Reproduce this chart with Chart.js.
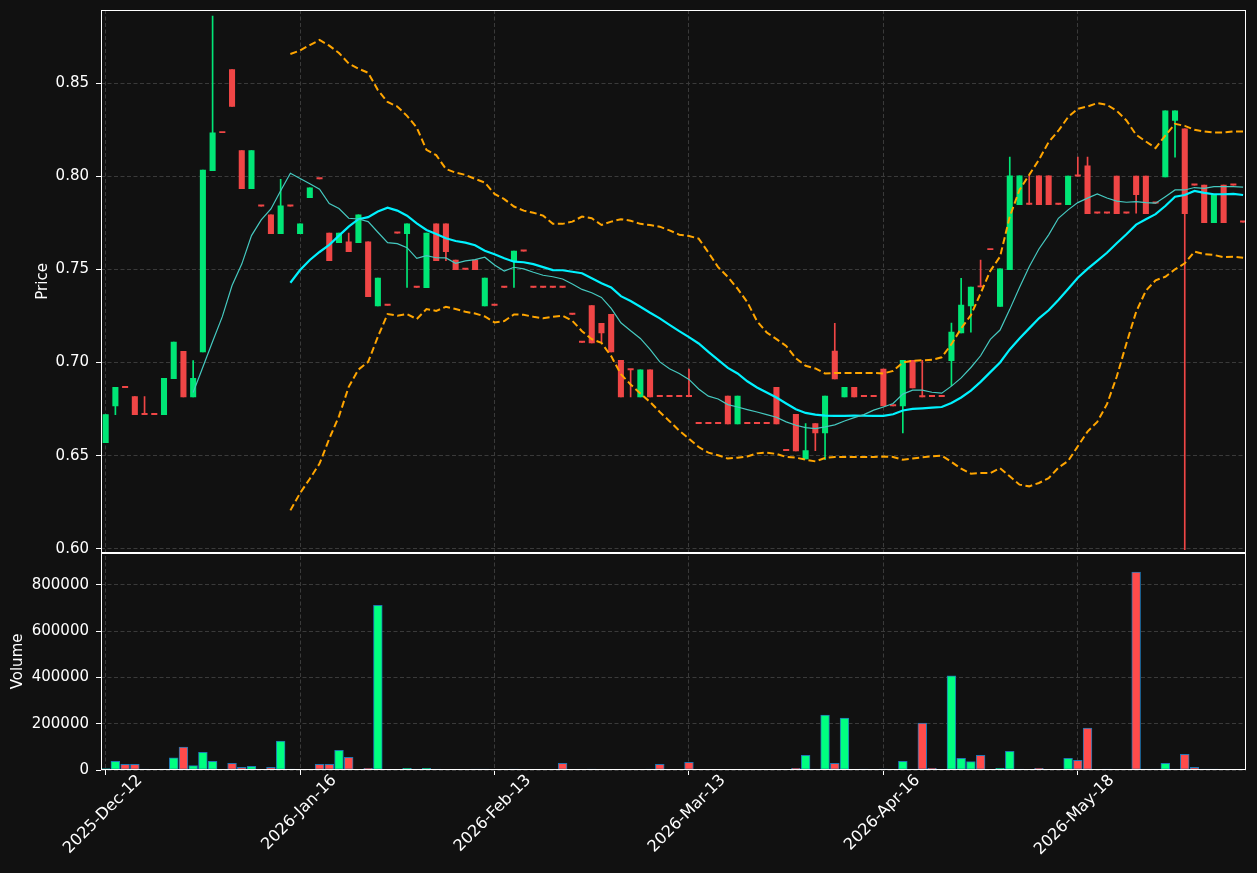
<!DOCTYPE html>
<html><head><meta charset="utf-8">
<script src="https://cdn.jsdelivr.net/npm/chart.js@4.4.1/dist/chart.umd.min.js"></script>
<style>html,body{margin:0;padding:0;background:#111111;}canvas{display:block;}</style>
</head><body>
<canvas id="c" width="1257" height="873"></canvas>
<script>
const dates = ['2025-Dec-12','2025-Dec-15','2025-Dec-16','2025-Dec-17','2025-Dec-18','2025-Dec-19','2025-Dec-22','2025-Dec-23','2025-Dec-29','2025-Dec-30',
'2025-Dec-31','2026-Jan-05','2026-Jan-06','2026-Jan-07','2026-Jan-08','2026-Jan-09','2026-Jan-12','2026-Jan-13','2026-Jan-14','2026-Jan-15',
'2026-Jan-16','2026-Jan-19','2026-Jan-20','2026-Jan-21','2026-Jan-22','2026-Jan-23','2026-Jan-26','2026-Jan-27','2026-Jan-28','2026-Jan-29',
'2026-Jan-30','2026-Feb-02','2026-Feb-03','2026-Feb-04','2026-Feb-05','2026-Feb-06','2026-Feb-09','2026-Feb-10','2026-Feb-11','2026-Feb-12',
'2026-Feb-13','2026-Feb-16','2026-Feb-17','2026-Feb-18','2026-Feb-19','2026-Feb-20','2026-Feb-23','2026-Feb-24','2026-Feb-25','2026-Feb-26',
'2026-Feb-27','2026-Mar-02','2026-Mar-03','2026-Mar-04','2026-Mar-05','2026-Mar-06','2026-Mar-09','2026-Mar-10','2026-Mar-11','2026-Mar-12',
'2026-Mar-13','2026-Mar-16','2026-Mar-17','2026-Mar-18','2026-Mar-19','2026-Mar-20','2026-Mar-23','2026-Mar-24','2026-Mar-25','2026-Mar-26',
'2026-Mar-27','2026-Mar-30','2026-Mar-31','2026-Apr-01','2026-Apr-02','2026-Apr-08','2026-Apr-09','2026-Apr-10','2026-Apr-14','2026-Apr-15',
'2026-Apr-16','2026-Apr-17','2026-Apr-20','2026-Apr-21','2026-Apr-22','2026-Apr-23','2026-Apr-24','2026-Apr-27','2026-Apr-28','2026-Apr-29',
'2026-Apr-30','2026-May-05','2026-May-06','2026-May-07','2026-May-08','2026-May-11','2026-May-12','2026-May-13','2026-May-14','2026-May-15',
'2026-May-18','2026-May-19','2026-May-20','2026-May-21','2026-May-22','2026-May-26','2026-May-27','2026-May-28','2026-May-29','2026-Jun-01',
'2026-Jun-02','2026-Jun-03','2026-Jun-04','2026-Jun-05','2026-Jun-08','2026-Jun-09','2026-Jun-10','2026-Jun-11'];

const opens = [.657,.6767,.6865,.6817,.672,.672,.672,.6913,.706,.6815,
.7057,.803,.8233,.8572,.8137,.7933,.7839,.7792,.7692,.7839,
.7691,.7885,.7985,.7695,.7643,.7647,.7643,.7647,.7304,.7306,
.7694,.7691,.7403,.7401,.7744,.7744,.755,.75,.755,.7304,
.7306,.7403,.7546,.7597,.7403,.7403,.7403,.7403,.7258,.7108,
.7306,.721,.7258,.7011,.696,.6815,.696,.6817,.6817,.6817,
.6817,.6672,.6672,.6672,.6819,.667,.6672,.6672,.6672,.6867,
.6527,.6722,.6482,.6672,.6622,.7061,.6815,.6867,.6817,.6817,
.6964,.6767,.6767,.7012,.6815,.6817,.6817,.7009,.7159,.7304,
.7405,.7605,.7301,.7498,.7847,.7849,.8002,.8002,.7849,.7847,
.80,.8055,.7801,.7801,.80,.7801,.80,.80,.7855,.7996,
.8299,.8254,.7952,.7952,.7751,.7952,.7952,.7753];

const highs = [.672,.6867,.6865,.6817,.6817,.672,.6915,.7109,.706,.701,
.8033,.886,.8233,.8572,.8137,.8137,.7839,.7792,.7983,.7839,
.7744,.7937,.7985,.7695,.7695,.7695,.7792,.7647,.7453,.7306,
.7694,.7744,.7403,.7695,.7744,.7744,.755,.75,.755,.7453,
.7306,.7403,.7598,.7597,.7403,.7403,.7403,.7403,.7258,.7108,
.7306,.721,.7258,.7011,.696,.696,.696,.6817,.6817,.6817,
.6964,.6672,.6672,.6672,.6819,.6819,.6672,.6672,.6672,.6867,
.6527,.6722,.6672,.6672,.6819,.721,.6867,.6867,.6817,.6817,
.6964,.6767,.7012,.7012,.7012,.6817,.6817,.7211,.7452,.7405,
.7549,.7605,.7502,.8102,.8002,.8002,.8002,.8002,.7849,.80,
.8102,.8102,.7801,.7801,.80,.7801,.80,.80,.7855,.8351,
.8351,.8254,.7952,.7952,.7903,.7952,.7952,.7753];

const lows = [.657,.672,.6865,.672,.672,.672,.672,.6913,.6815,.6815,
.7057,.803,.8233,.8374,.7933,.7933,.7839,.7692,.7692,.7839,
.7691,.7885,.7985,.7546,.7643,.7595,.7643,.7353,.7304,.7306,
.7694,.7403,.7403,.7401,.7546,.7546,.7498,.75,.7498,.7304,
.7306,.7403,.7403,.7597,.7403,.7403,.7403,.7403,.7258,.7108,
.7105,.7108,.7057,.6815,.6815,.6815,.6815,.6817,.6817,.6817,
.6817,.6672,.6672,.6672,.667,.667,.6672,.6672,.6672,.667,
.6527,.6525,.6482,.6527,.6478,.6912,.6815,.6815,.6817,.6817,
.6767,.6767,.6622,.6863,.6815,.6817,.6817,.6876,.7159,.7163,
.7405,.7605,.7301,.7498,.7847,.7849,.7847,.7847,.7849,.7847,
.80,.7799,.7801,.7801,.7799,.7801,.7801,.7799,.7855,.7996,
.8102,.5995,.7952,.7751,.7751,.7751,.7952,.7753];

const closes = [.672,.6867,.6865,.672,.672,.672,.6915,.7109,.6815,.6915,
.8033,.8233,.8233,.8374,.7933,.8137,.7839,.7692,.7841,.7839,
.7744,.7937,.7985,.7546,.7695,.7595,.7792,.7353,.7453,.7306,
.7694,.7744,.7403,.7695,.7546,.7595,.7498,.75,.7498,.7453,
.7306,.7403,.7598,.7597,.7403,.7403,.7403,.7403,.7258,.7108,
.7105,.7159,.7057,.6815,.696,.696,.6815,.6817,.6817,.6817,
.6817,.6672,.6672,.6672,.667,.6819,.6672,.6672,.6672,.667,
.6527,.6525,.6527,.6622,.6819,.6912,.6867,.6815,.6817,.6817,
.6767,.6767,.7012,.6863,.6815,.6817,.6817,.7163,.7308,.7405,
.7405,.7605,.7502,.8002,.8002,.7849,.7847,.7847,.7849,.80,
.80,.7799,.7801,.7801,.7799,.7801,.7901,.7799,.7855,.8351,
.8351,.7799,.7952,.7751,.7903,.7751,.7952,.7753];

const volumes = [6000,37700,24600,24600,4000,0,4000,52200,98500,18800,
76800,37700,0,29000,11600,15900,0,11600,124600,4000,
0,0,24600,24600,85500,55000,0,7200,711500,0,
0,7200,4000,7200,4000,0,0,0,4000,4000,
0,0,4000,0,0,0,0,29000,0,0,
4000,0,0,0,0,0,4000,24600,0,0,
33300,0,0,0,0,0,0,0,0,0,
0,7200,63800,4000,237600,29000,224600,0,4000,0,
4000,0,37700,4000,202900,7200,0,407200,50700,36200,
63800,0,7200,81100,4000,0,7200,0,0,50700,
42000,181100,0,4000,0,0,854900,4000,4000,29000,
4000,68100,11600,4000,4000,0,0,0];

const ma10 = [null,null,null,null,null,null,null,null,null,
.6839,.6976,.7113,.7246,.7413,.7528,.7681,.7765,.7824,.7922,
.8016,.7987,.7959,.7930,.7853,.7826,.7774,.7770,.7756,.7699,
.7643,.7638,.7616,.7559,.7573,.7562,.7561,.7532,.7545,.7552,
.7565,.7523,.7491,.7511,.7502,.7484,.7468,.7460,.7448,.7421,
.7392,.7374,.7349,.7290,.7213,.7170,.7129,.7070,.7003,.6966,
.6941,.6909,.6858,.6819,.6804,.6774,.6761,.6747,.6734,.6720,
.6706,.6681,.6663,.6650,.6645,.6654,.6665,.6686,.6704,.6720,
.6744,.6761,.6780,.6830,.6851,.6851,.6840,.6835,.6873,.6917,
.6973,.7036,.7124,.7174,.7285,.7403,.7514,.7609,.7685,.7774,
.7819,.7858,.7882,.7905,.7883,.7866,.7860,.7863,.7858,.7855,
.7890,.7926,.7926,.7939,.7935,.7944,.7944,.7944,.7941];

const ma20 = [null,null,null,null,null,null,null,null,null,null,null,null,null,null,null,null,null,null,null,
.7428,.7496,.7550,.7593,.7631,.7681,.7729,.7769,.7780,.7810,
.7831,.7815,.7788,.7747,.7711,.7690,.7667,.7652,.7643,.7629,
.7600,.7581,.7559,.7541,.7538,.7528,.7512,.7496,.7495,.7487,
.7479,.7452,.7425,.7403,.7356,.7330,.7299,.7267,.7237,.7202,
.7168,.7136,.7102,.7057,.7014,.6971,.6941,.6899,.6866,.6839,
.6812,.6780,.6749,.6729,.6720,.6715,.6713,.6713,.6715,.6714,
.6713,.6713,.6722,.6742,.6751,.6754,.6758,.6761,.6783,.6812,
.6849,.6896,.6948,.7000,.7070,.7129,.7183,.7237,.7280,.7335,
.7394,.7455,.7502,.7545,.7589,.7640,.7688,.7740,.7769,.7796,
.7840,.7890,.7899,.7921,.7910,.7903,.7903,.7905,.7899];

const bbUpper = [null,null,null,null,null,null,null,null,null,null,null,null,null,null,null,null,null,null,null,
.8656,.8675,.8704,.8731,.8701,.8661,.8605,.8577,.8555,.8462,
.8398,.8374,.8324,.8261,.8141,.8113,.8039,.8019,.8007,.7985,
.7966,.7905,.7877,.7837,.7815,.7804,.7788,.7744,.7744,.7756,
.7783,.7774,.7738,.7756,.7769,.7761,.7744,.7738,.7729,.7709,
.7686,.7679,.7665,.7590,.7512,.7459,.7396,.7324,.7222,.7161,
.7125,.7089,.7022,.6982,.6968,.6941,.6944,.6944,.6944,.6944,
.6944,.6941,.6955,.7000,.7009,.7012,.7014,.7028,.7098,.7183,
.7254,.7371,.7492,.7568,.7783,.7926,.8007,.8088,.8183,.8244,
.8317,.8362,.8374,.8392,.8383,.8351,.8299,.8222,.8186,.8151,
.8218,.8281,.8270,.8249,.8240,.8234,.8234,.8240,.8240];

const bbLower = [null,null,null,null,null,null,null,null,null,null,null,null,null,null,null,null,null,null,null,
.6206,.6299,.6376,.6457,.6591,.6711,.6869,.6962,.7003,.7138,
.7260,.7251,.7260,.7233,.7287,.7277,.7299,.7287,.7272,.7263,
.7247,.7215,.7222,.7258,.7256,.7245,.7237,.7245,.7251,.7224,
.7168,.7125,.7105,.7034,.6937,.6882,.6833,.6788,.6734,.6685,
.6634,.6591,.6546,.6516,.6502,.6484,.6489,.6495,.6512,.6516,
.6509,.6493,.6489,.6478,.6469,.6487,.6493,.6493,.6493,.6493,
.6493,.6495,.6493,.6478,.6484,.6491,.6496,.6500,.6466,.6430,
.6403,.6406,.6406,.6433,.6389,.6344,.6335,.6353,.6379,.6435,
.6471,.6550,.6629,.6681,.6776,.6923,.7102,.7272,.7385,.7441,
.7460,.7500,.7532,.7595,.7582,.7577,.7565,.7568,.7562];

const xTickIdx = [0, 20, 40, 60, 80, 100];
const priceTicks = [0.60, 0.65, 0.70, 0.75, 0.80, 0.85];
const volumeTicks = [0, 200000, 400000, 600000, 800000];

const idx = dates.map((d, i) => i);
const isUp = idx.map(i => closes[i] > opens[i]);
const candleColors = isUp.map(u => u ? '#00e676' : '#f04646');
const volColors = isUp.map(u => u ? '#00ff80' : '#ff4b4b');
const linePts = arr => idx.filter(i => arr[i] !== null).map(i => ({x: i, y: arr[i]}));

Chart.defaults.font.family = "'DejaVu Sans', sans-serif";
Chart.defaults.font.size = 15;
Chart.defaults.color = '#ffffff';

const GRID = '#3a3a3a';
const DASH = [4, 2.5];
function gridOpts() {
  return { color: GRID, borderDash: DASH, lineWidth: 1, tickColor: '#ffffff', tickLength: 5, tickWidth: 1, offset: false, drawTicks: true };
}

const framePlugin = {
  id: 'frame',
  beforeDraw(chart) {
    const c = chart.ctx;
    c.save(); c.fillStyle = '#111111'; c.fillRect(0, 0, chart.width, chart.height); c.restore();
  },
  afterDraw(chart) {
    const {ctx, chartArea: a, scales} = chart;
    const yp = scales.y, yv = scales.yv;
    ctx.save();
    ctx.strokeStyle = '#ffffff';
    ctx.lineWidth = 1;
    ctx.strokeRect(a.left + 0.5, Math.round(yp.top) + 0.5, a.right - a.left - 1, Math.round(yp.bottom) - Math.round(yp.top) - 1);
    ctx.strokeRect(a.left + 0.5, Math.round(yv.top) + 0.5, a.right - a.left - 1, Math.round(yv.bottom) - Math.round(yv.top) - 1);
    ctx.restore();
  }
};

new Chart(document.getElementById('c'), {
  type: 'bar',
  data: {
    datasets: [
      { label: 'MA10', type: 'line', data: linePts(ma10), borderColor: '#45c9c0', borderWidth: 1.2, pointRadius: 0, tension: 0, yAxisID: 'y', order: 1 },
      { label: 'MA20', type: 'line', data: linePts(ma20), borderColor: '#00f2ff', borderWidth: 2.2, pointRadius: 0, tension: 0, yAxisID: 'y', order: 1 },
      { label: 'BB Upper', type: 'line', data: linePts(bbUpper), borderColor: '#ffa500', borderDash: [7, 3.5], borderWidth: 2, pointRadius: 0, tension: 0, yAxisID: 'y', order: 1 },
      { label: 'BB Lower', type: 'line', data: linePts(bbLower), borderColor: '#ffa500', borderDash: [7, 3.5], borderWidth: 2, pointRadius: 0, tension: 0, yAxisID: 'y', order: 1 },
      { label: 'Body', type: 'bar', data: idx.map(i => ({x: i, y: [opens[i], closes[i]]})), backgroundColor: candleColors, barThickness: 5.4, minBarLength: 1.3, grouped: false, yAxisID: 'y', order: 5 },
      { label: 'Wick', type: 'bar', data: idx.map(i => ({x: i, y: [lows[i], highs[i]]})), backgroundColor: candleColors, barThickness: 1, grouped: false, yAxisID: 'y', order: 6 },
      { label: 'Volume', type: 'bar', data: idx.map(i => ({x: i, y: volumes[i]})), backgroundColor: volColors, borderColor: '#1f77b4', borderWidth: 1, borderSkipped: false, barThickness: 8.8, grouped: false, yAxisID: 'yv', order: 7 }
    ]
  },
  options: {
    responsive: false,
    animation: false,
    devicePixelRatio: 1,
    events: [],
    layout: { padding: { left: 0, right: 11, top: 10, bottom: 0 } },
    plugins: { legend: { display: false }, tooltip: { enabled: false } },
    scales: {
      x: {
        type: 'linear', min: -0.48, max: 117.3, offset: false,
        afterBuildTicks: s => { s.ticks = xTickIdx.map(v => ({value: v})); },
        afterFit: s => { s.height = 103; s.paddingLeft = 0; s.paddingRight = 0; },
        ticks: { callback: v => dates[v], autoSkip: false, maxRotation: 45, minRotation: 45, labelOffset: 34, padding: -4, color: '#ffffff', font: { size: 16 } },
        grid: gridOpts(),
        border: { display: false, dash: DASH }
      },
      y: {
        type: 'linear', position: 'left', stack: 'panels', stackWeight: 2.5, weight: 1,
        min: 0.5978, max: 0.8892, offset: false, beginAtZero: false,
        afterBuildTicks: s => { s.ticks = priceTicks.map(v => ({value: v})); },
        afterFit: s => { s.width = 101; s.paddingTop = 0; s.paddingBottom = 0; },
        ticks: { callback: v => Number(v).toFixed(2), padding: 7, color: '#ffffff' },
        grid: gridOpts(),
        border: { display: false, dash: DASH },
        title: { display: true, text: 'Price', color: '#ffffff', padding: { top: 34, bottom: 0 } }
      },
      yv: {
        type: 'linear', position: 'left', stack: 'panels', stackWeight: 1, weight: 0,
        min: 0, max: 938000, offset: false,
        afterBuildTicks: s => { s.ticks = volumeTicks.map(v => ({value: v})); },
        afterFit: s => { s.width = 101; s.paddingTop = 0; s.paddingBottom = 0; },
        ticks: { callback: v => String(v), padding: 7, color: '#ffffff' },
        grid: gridOpts(),
        border: { display: false, dash: DASH },
        title: { display: true, text: 'Volume', color: '#ffffff', padding: { top: 9, bottom: 0 } }
      }
    }
  },
  plugins: [framePlugin]
});
</script>
</body></html>
